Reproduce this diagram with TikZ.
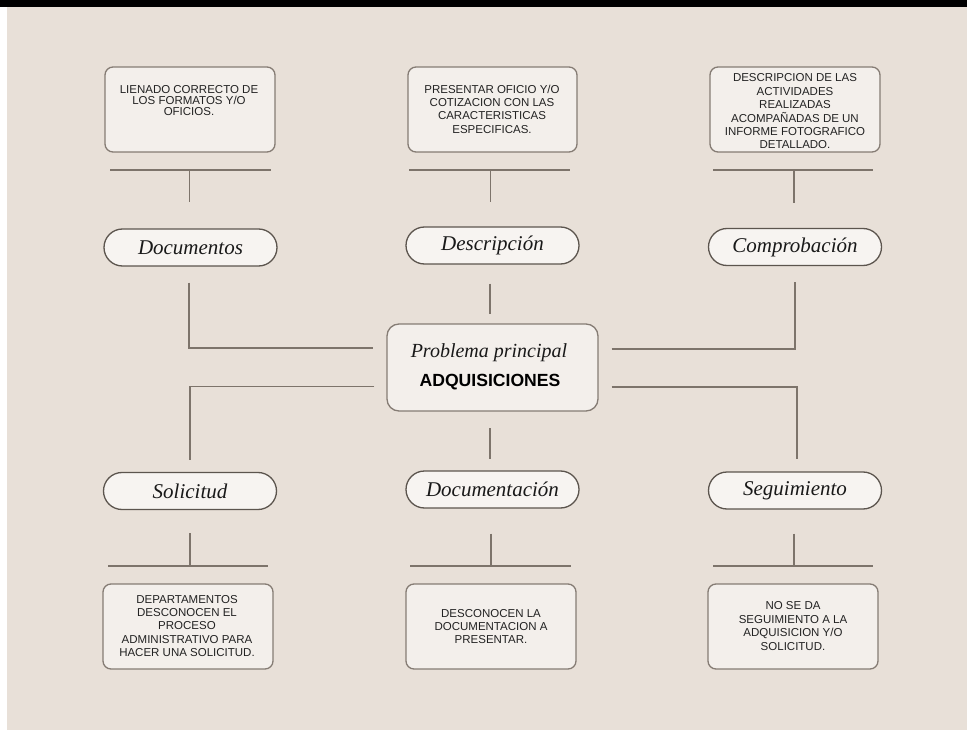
\documentclass[tikz,border=0pt]{standalone}
\usepackage{fontspec}
\newfontfamily\boxfont{Liberation Sans}
\newfontfamily\titlefont{Liberation Serif}
\usetikzlibrary{calc}
\definecolor{bgc}{HTML}{E8E0D8}
\definecolor{boxfill}{HTML}{F3EFEB}
\definecolor{boxline}{HTML}{857C74}
\definecolor{pillline}{HTML}{5C554E}
\definecolor{connc}{HTML}{7D746B}
\definecolor{txt}{HTML}{222222}
\tikzset{
  infobox/.style={draw=boxline, fill=boxfill, line width=1.3pt, rounded corners=8pt,
    minimum width=170pt, minimum height=85pt, inner sep=0pt},
  infotext/.style={text=txt, align=center, font=\boxfont\fontsize{11.5}{13.4}\selectfont, inner sep=0pt},
  pill/.style={draw=pillline, fill=boxfill!70!white, line width=1.3pt, rounded corners=18.5pt,
    minimum width=173pt, minimum height=37pt, inner sep=0pt, text=black!90,
    font=\titlefont\itshape\fontsize{21}{24}\selectfont},
  conn/.style={draw=connc, line width=1.3pt},
}
\begin{document}
\begin{tikzpicture}[x=1pt,y=-1pt]
\useasboundingbox (0,0) rectangle (967,730);
\fill[bgc] (0,0) rectangle (967,730);
\fill[white] (0,0) rectangle (7,730);
\fill[black] (0,0) rectangle (967,7);

% centre
\node[draw=boxline, fill=boxfill, line width=1.3pt, rounded corners=12pt,
  minimum width=211pt, minimum height=87pt, inner sep=0pt] (c) at (492.5,367.5) {};
\node[text=black!90, font=\titlefont\itshape\fontsize{20}{24}\selectfont, inner sep=0pt] (ct1) at (489,353) {Problema principal};
\node[text=black, font=\boxfont\bfseries\fontsize{17.6}{20}\selectfont, inner sep=0pt] (ct2) at (490,382) {ADQUISICIONES};

% top boxes
\node[infobox] (b1) at (190,109.5) {};
\node[infotext, font=\boxfont\fontsize{11.5}{10.8}\selectfont] (t1) at (189,100.5) {LIENADO CORRECTO DE\\LOS FORMATOS Y/O\\OFICIOS.};
\node[infobox, minimum width=169pt] (b2) at (492.5,109.5) {};
\node[infotext] (t2) at (492,109) {PRESENTAR OFICIO Y/O\\COTIZACION CON LAS\\CARACTERISTICAS\\ESPECIFICAS.};
\node[infobox] (b3) at (795,109.5) {};
\node[infotext] (t3) at (795,111.5) {DESCRIPCION DE LAS\\ACTIVIDADES\\REALIZADAS\\ACOMPA\~NADAS DE UN\\INFORME FOTOGRAFICO\\DETALLADO.};

% top pills
\node[pill] (p1) at (190.5,247.5) {Documentos};
\node[pill] (p2) at (492.5,245.5) {Descripción};
\node[pill] (p3) at (795,247) {Comprobación};

% bottom pills
\node[pill] (p4) at (190,491) {Solicitud};
\node[pill] (p5) at (492.5,489.5) {Documentación};
\node[pill] (p6) at (795,490.5) {Seguimiento};

% bottom boxes
\node[infobox] (b4) at (188,626.5) {};
\node[infotext] (t4) at (187,626) {DEPARTAMENTOS\\DESCONOCEN EL\\PROCESO\\ADMINISTRATIVO PARA\\HACER UNA SOLICITUD.};
\node[infobox] (b5) at (491,626.5) {};
\node[infotext] (t5) at (491,626.5) {DESCONOCEN LA\\DOCUMENTACION A\\PRESENTAR.};
\node[infobox] (b6) at (793,626.5) {};
\node[infotext] (t6) at (793,626) {NO SE DA\\SEGUIMIENTO A LA\\ADQUISICION Y/O\\SOLICITUD.};

% bars and stems, top
\coordinate (bar1) at ($(b1.south)+(0,17.5)$);
\coordinate (bar2) at ($(b2.south)+(0,17.5)$);
\coordinate (bar3) at ($(b3.south)+(0,17.5)$);
\draw[conn] ($(bar1)+(-80,0)$) -- ($(bar1)+(81,0)$);
\draw[conn] ($(bar2)+(-83.5,0)$) -- ($(bar2)+(77.5,0)$);
\draw[conn] ($(bar3)+(-82,0)$) -- ($(bar3)+(78,0)$);
\draw[conn] ($(b1.south)+(-0.5,18)$) -- ($(p1.north)+(-1,-26)$);
\draw[conn] ($(b2.south)+(-2,18)$) -- ($(p2.north)+(-2,-24)$);
\draw[conn] ($(b3.south)+(-1,18)$) -- ($(p3.north)+(-1,-25)$);

% bars and stems, bottom
\coordinate (bar4) at ($(b4.north)+(0,-17.5)$);
\coordinate (bar5) at ($(b5.north)+(0,-17.5)$);
\coordinate (bar6) at ($(b6.north)+(0,-17.5)$);
\draw[conn] ($(bar4)+(-80,0)$) -- ($(bar4)+(80,0)$);
\draw[conn] ($(bar5)+(-81,0)$) -- ($(bar5)+(80,0)$);
\draw[conn] ($(bar6)+(-80,0)$) -- ($(bar6)+(80,0)$);
\draw[conn] ($(p4.south)+(0,23)$) -- ($(b4.north)+(2,-17.5)$);
\draw[conn] ($(p5.south)+(-1.5,25)$) -- ($(b5.north)+(0,-17.5)$);
\draw[conn] ($(p6.south)+(-1,24)$) -- ($(b6.north)+(1,-17.5)$);

% links to centre
\draw[conn] ($(p1.south)+(-1.5,16)$) |- ($(c.west)+(-13,-19.5)$);
\draw[conn] ($(c.west)+(-12,19)$) -| ($(p4.north)+(0,-12)$);
\draw[conn] ($(c.east)+(13,-18.5)$) -| ($(p3.south)+(0,16)$);
\draw[conn] ($(c.east)+(13,19.5)$) -| ($(p6.north)+(2,-12)$);
\draw[conn] ($(p2.south)+(-2.5,19)$) -- ($(c.north)+(-2.5,-9)$);
\draw[conn] ($(c.south)+(-2.5,16.5)$) -- ($(p5.north)+(-2.5,-11)$);
\end{tikzpicture}
\end{document}
